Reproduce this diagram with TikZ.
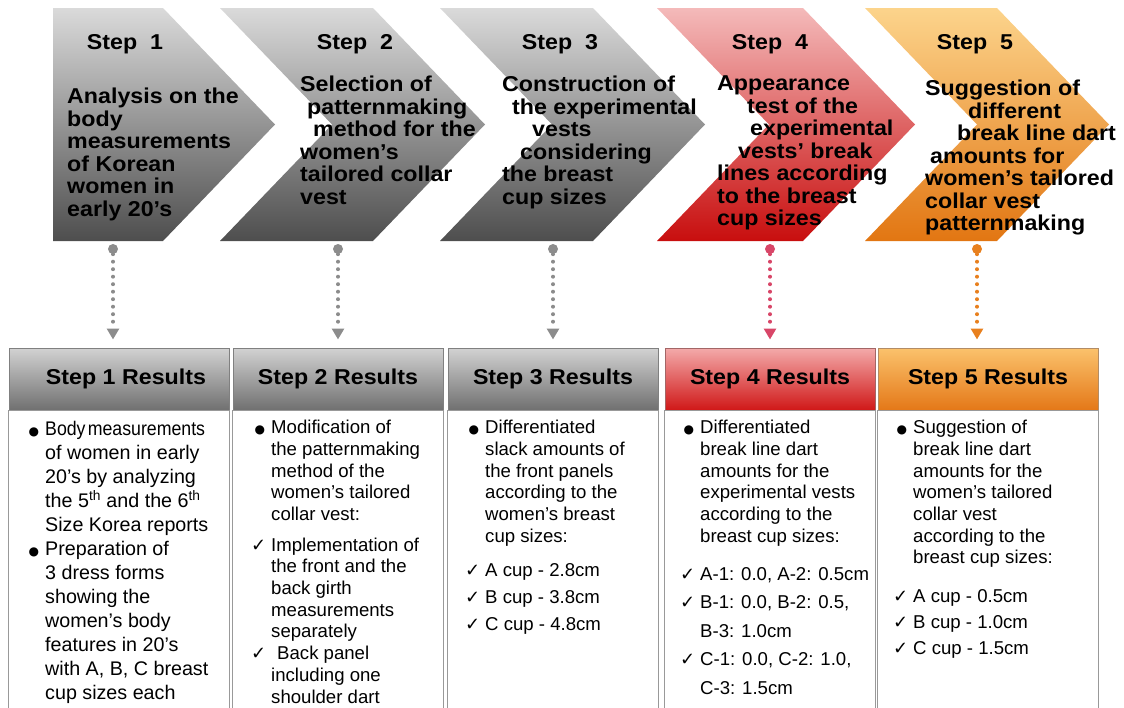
\documentclass[tikz,border=0pt]{standalone}
\usepackage{fontspec}
\setmainfont{Liberation Sans}
\newfontfamily\headfont[FakeStretch=1.08]{Liberation Sans}
\newfontfamily\symfont{DejaVu Sans}
\usepackage{xcolor}
\usepackage{tikz}
\usetikzlibrary{arrows.meta, positioning, calc}

\definecolor{grayTop}{RGB}{218,218,218}
\definecolor{grayMid}{RGB}{165,165,165}
\definecolor{grayBot}{RGB}{78,78,78}
\definecolor{redTop}{RGB}{244,186,186}
\definecolor{redMid}{RGB}{226,100,100}
\definecolor{redBot}{RGB}{200,14,14}
\definecolor{orTop}{RGB}{252,212,140}
\definecolor{orMid}{RGB}{242,168,70}
\definecolor{orBot}{RGB}{226,118,18}
\definecolor{hdGrayTop}{RGB}{210,210,210}
\definecolor{hdGrayBot}{RGB}{112,112,112}
\definecolor{hdRedTop}{RGB}{243,170,170}
\definecolor{hdRedBot}{RGB}{208,24,24}
\definecolor{hdOrTop}{RGB}{251,194,108}
\definecolor{hdOrBot}{RGB}{228,120,24}
\definecolor{pinGray}{RGB}{140,140,140}
\definecolor{pinRed}{RGB}{216,70,104}
\definecolor{pinOr}{RGB}{232,128,30}

\newcommand{\itembullet}{\llap{{\symfont\fontsize{12}{12}\selectfont ●}\hspace{6pt}}}
\newcommand{\itemcheck}{\llap{{\symfont\fontsize{18}{18}\selectfont ✓}\hspace{5pt}}}

\begin{document}
\begin{tikzpicture}[x=1pt, y=-1pt,
    steptitle/.style={font=\headfont\bfseries\fontsize{21.5}{22.5}\selectfont, inner sep=0pt, anchor=base},
    steptext/.style={font=\headfont\bfseries\fontsize{21.5}{22.5}\selectfont, align=left, anchor=north west, inner sep=0pt},
    reshead/.style={rectangle, draw=black!50, line width=1pt, minimum height=62pt,
        font=\headfont\bfseries\fontsize{21.5}{22.5}\selectfont, inner sep=0pt},
    resbody/.style={draw=black!40, line width=1.2pt, fill=white},
    restext/.style={font=\fontsize{18.6}{21.7}\selectfont, align=left, anchor=north west, inner sep=0pt},
    pin/.style={circle, inner sep=0pt, minimum size=10pt},
    link/.style={line width=4pt, line cap=round, dash pattern=on 0pt off 7.5pt,
        -{Triangle[length=11pt, width=12pt]}, shorten >=8pt},
]
\useasboundingbox (0,0) rectangle (1124,707);

% chevrons
\path[top color=grayTop, middle color=grayMid, bottom color=grayBot]
    (53,8) -- (163,8) -- (275,124.5) -- (163,241) -- (53,241) -- cycle;
\path[top color=grayTop, middle color=grayMid, bottom color=grayBot]
    (220,8) -- (373,8) -- (485,124.5) -- (373,241) -- (220,241) -- (332,124.5) -- cycle;
\path[top color=grayTop, middle color=grayMid, bottom color=grayBot]
    (440,8) -- (593,8) -- (705,124.5) -- (593,241) -- (440,241) -- (552,124.5) -- cycle;
\path[top color=redTop, middle color=redMid, bottom color=redBot]
    (657,8) -- (803,8) -- (915,124.5) -- (803,241) -- (657,241) -- (769,124.5) -- cycle;
\path[top color=orTop, middle color=orMid, bottom color=orBot]
    (865,8) -- (997,8) -- (1109,124.5) -- (997,241) -- (865,241) -- (977,124.5) -- cycle;

\node[steptitle] (S1) at (125,49) {Step\ \ 1};
\node[steptitle] (S2) at (355,49) {Step\ \ 2};
\node[steptitle] (S3) at (560,49) {Step\ \ 3};
\node[steptitle] (S4) at (770,49) {Step\ \ 4};
\node[steptitle] (S5) at (975,49) {Step\ \ 5};

\node[steptext] (T1) at (67,88) {Analysis on the\\ body\\ measurements\\ of Korean\\ women in\\ early 20’s};
\node[steptext] (T2) at (300,76) {Selection of\\ \hspace*{7pt}patternmaking\\ \hspace*{13pt}method for the\\ women’s\\ tailored collar\\ vest};
\node[steptext] (T3) at (502,76) {Construction of\\ \hspace*{10pt}the experimental\\ \hspace*{30pt}vests\\ \hspace*{18pt}considering\\ the breast\\ cup sizes};
\node[steptext] (T4) at (717,76) {Appearance\\ \hspace*{30pt}test of the\\ \hspace*{33pt}experimental\\ \hspace*{21pt}vests’ break\\ lines according\\ to the breast\\ cup sizes};
\node[steptext] (T5) at (925,80) {Suggestion of\\ \hspace*{43pt}different\\ \hspace*{32pt}break line dart\\ \hspace*{5pt}amounts for\\ women’s tailored\\ collar vest\\ patternmaking};

% result boxes
\node[reshead, minimum width=220pt, top color=hdGrayTop, bottom color=hdGrayBot] (H1) at (119,379) {\hspace*{14pt}Step 1 Results};
\node[reshead, minimum width=210pt, top color=hdGrayTop, bottom color=hdGrayBot] (H2) at (338,379) {Step 2 Results};
\node[reshead, minimum width=210pt, top color=hdGrayTop, bottom color=hdGrayBot] (H3) at (553,379) {Step 3 Results};
\node[reshead, minimum width=210pt, top color=hdRedTop, bottom color=hdRedBot, draw=red!40!black!60] (H4) at (770,379) {Step 4 Results};
\node[reshead, minimum width=220pt, top color=hdOrTop, bottom color=hdOrBot, draw=orange!50!black!60] (H5) at (988,379) {Step 5 Results};

\begin{scope}
\clip (0,0) rectangle (1124,707);
\draw[resbody] (H1.south west) rectangle ($(H1.south east)+(0,310)$);
\draw[resbody] (H2.south west) rectangle ($(H2.south east)+(0,310)$);
\draw[resbody] (H3.south west) rectangle ($(H3.south east)+(0,310)$);
\draw[resbody] (H4.south west) rectangle ($(H4.south east)+(0,310)$);
\draw[resbody] (H5.south west) rectangle ($(H5.south east)+(0,310)$);
\end{scope}

\node[restext, font=\fontsize{19.7}{24}\selectfont] (R1) at (45,421.5) {\itembullet \scalebox{0.9}[1]{Body\hspace{-3pt} measurements}\\ of women in early\\ 20’s by analyzing\\ the 5\textsuperscript{th} and the 6\textsuperscript{th}\\ Size Korea reports\\ \itembullet Preparation of\\ 3 dress forms\\ showing the\\ women’s body\\ features in 20’s\\ with A, B, C breast\\ cup sizes each};
\node[restext] (R2) at (271,420) {\itembullet Modification of\\ the patternmaking\\ method of the\\ women’s tailored\\ collar vest:\\[9pt] \itemcheck Implementation of\\ the front and the\\ back girth\\ measurements\\ separately\\ \itemcheck\hspace*{6pt}Back panel\\ including one\\ shoulder dart};
\node[restext] (R3) at (485,420) {\itembullet Differentiated\\ slack amounts of\\ the front panels\\ according to the\\ women’s breast\\ cup sizes:\\[13pt] \itemcheck A cup - 2.8cm\\[5pt] \itemcheck B cup - 3.8cm\\[5pt] \itemcheck C cup - 4.8cm};
\node[restext] (R4) at (700,420) {\itembullet Differentiated\\ break line dart\\ amounts for the\\ experimental vests\\ according to the\\ breast cup sizes:\\[16.6pt] \itemcheck A-1: 0.0, A-2: 0.5cm\\[6.8pt] \itemcheck B-1: 0.0, B-2: 0.5,\\[6.8pt] B-3: 1.0cm\\[6.8pt] \itemcheck C-1: 0.0, C-2: 1.0,\\[6.8pt] C-3: 1.5cm};
\node[restext] (R5) at (913,420) {\itembullet Suggestion of\\ break line dart\\ amounts for the\\ women’s tailored\\ collar vest\\ according to the\\ breast cup sizes:\\[16.6pt] \itemcheck A cup - 0.5cm\\[4.3pt] \itemcheck B cup - 1.0cm\\[4.3pt] \itemcheck C cup - 1.5cm};

% connectors
\node[pin, fill=pinGray] (P1) at (113,249) {};
\node[pin, fill=pinGray] (P2) at (338,249) {};
\node[pin, fill=pinGray] (P3) at (553,249) {};
\node[pin, fill=pinRed] (P4) at (770,249) {};
\node[pin, fill=pinOr] (P5) at (977,249) {};

\draw[link, pinGray] (P1) -- (P1 |- H1.north);
\draw[link, pinGray] (P2) -- (P2 |- H2.north);
\draw[link, pinGray] (P3) -- (P3 |- H3.north);
\draw[link, pinRed] (P4) -- (P4 |- H4.north);
\draw[link, pinOr] (P5) -- (P5 |- H5.north);
\end{tikzpicture}
\end{document}
